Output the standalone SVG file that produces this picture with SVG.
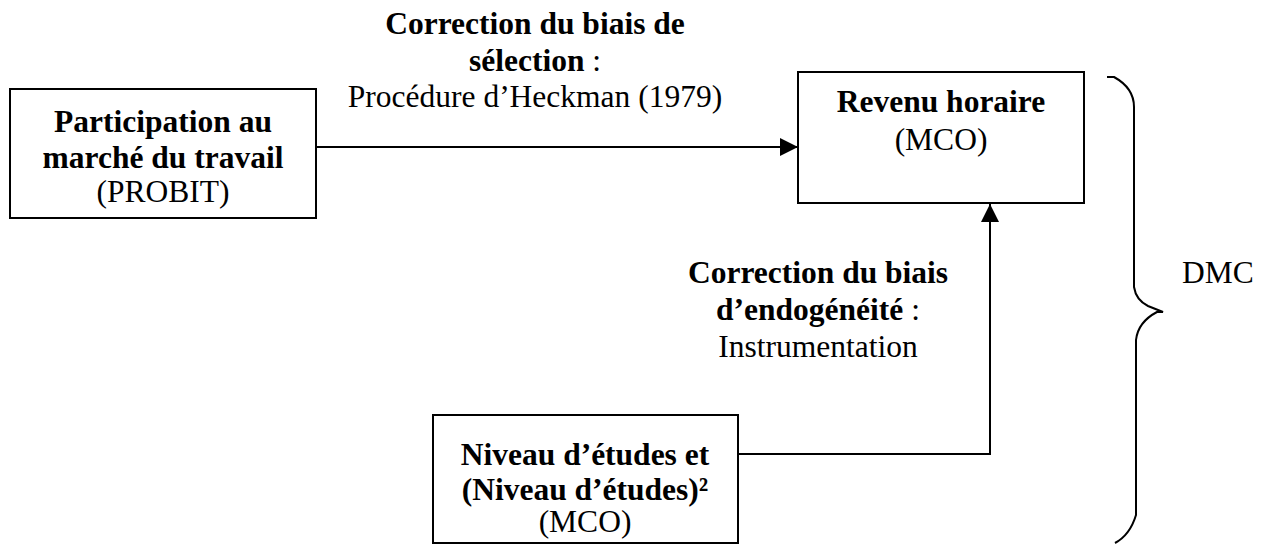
<svg xmlns="http://www.w3.org/2000/svg" width="1269" height="544" viewBox="0 0 1269 544">
<defs>
<style>
text{font-family:"Liberation Serif","Times New Roman",serif;font-size:31.5px;fill:#000;text-anchor:middle}
.b{font-weight:bold}
.box{fill:#fff;stroke:#000;stroke-width:2}
.ln{fill:none;stroke:#000;stroke-width:2}
</style>
<marker id="arr" markerUnits="userSpaceOnUse" markerWidth="20" markerHeight="20" refX="18" refY="9" orient="auto">
<path d="M0,0 L18,9 L0,18 Z" fill="#000"/>
</marker>
</defs>
<g id="connectors">
<line class="ln" x1="316" y1="147" x2="798" y2="147" marker-end="url(#arr)"/>
<polyline class="ln" points="738,454 990,454 990,204" marker-end="url(#arr)"/>
</g>
<g id="node-participation">
<rect class="box" x="10" y="89" width="306" height="129"/>
<text x="163" y="132" class="b">Participation au</text>
<text x="163" y="168" class="b">marché du travail</text>
<text x="163" y="202">(PROBIT)</text>
</g>
<g id="node-revenu">
<rect class="box" x="798" y="72" width="286" height="131"/>
<text x="941" y="112" class="b">Revenu horaire</text>
<text x="941" y="150">(MCO)</text>
</g>
<g id="node-niveau">
<rect class="box" x="433" y="415" width="305" height="128"/>
<text x="585" y="465" class="b">Niveau d’études et</text>
<text x="585" y="500" class="b">(Niveau d’études)²</text>
<text x="585" y="532">(MCO)</text>
</g>
<g id="label-selection">
<text x="535" y="34" class="b">Correction du biais de</text>
<text x="535" y="71"><tspan class="b">sélection</tspan> :</text>
<text x="535" y="107">Procédure d’Heckman (1979)</text>
</g>
<g id="label-endogeneite">
<text x="818" y="283" class="b">Correction du biais</text>
<text x="818" y="320"><tspan class="b">d’endogénéité</tspan> :</text>
<text x="818" y="357">Instrumentation</text>
</g>
<g id="brace">
<path class="ln" d="M1107,77 L1114,77 Q1134,88 1134,107 L1134,287 Q1136,300 1148,306 L1163,312 L1157,312 Q1138,322 1136,340 L1136,515 Q1130,535 1115,543"/>
<text x="1218" y="283">DMC</text>
</g>
</svg>
